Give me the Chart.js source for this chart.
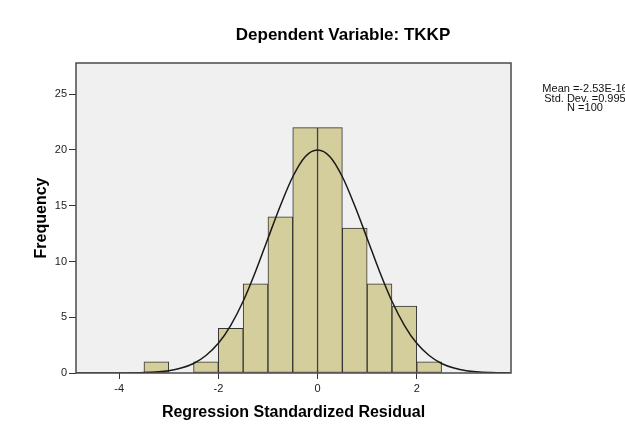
<!DOCTYPE html>
<html>
<head>
<meta charset="utf-8">
<script src="https://cdn.jsdelivr.net/npm/chart.js@4/dist/chart.umd.min.js"></script>
<style>
    body { margin: 0; background: #fff; }
    #wrap { width: 625px; height: 447px; position: relative; }
</style>
</head>
<body>
<div id="wrap"><canvas id="histChart"></canvas></div>
<script>
// histogram bins (0.5 wide), centre of each bin and its frequency
const binCenters = [-3.25, -2.25, -1.75, -1.25, -0.75, -0.25, 0.25, 0.75, 1.25, 1.75, 2.25];
const binCounts = [1, 1, 4, 8, 14, 22, 22, 13, 8, 6, 1];

// normal curve
const curveX = [-4.87, -4.5, -4, -3.5, -3, -2.75, -2.5, -2.25, -2, -1.75, -1.5, -1.25, -1, -0.75, -0.5, -0.25, 0, 0.25, 0.5, 0.75, 1, 1.25, 1.5, 1.75, 2, 2.25, 2.5, 2.75, 3, 3.5, 3.9];
const curveY = [0, 0.001, 0.006, 0.04, 0.21, 0.44, 0.85, 1.57, 2.66, 4.28, 6.43, 9.1, 12.07, 15.0, 17.6, 19.4, 20, 19.4, 17.6, 15.0, 12.07, 9.1, 6.43, 4.28, 2.66, 1.57, 0.85, 0.44, 0.21, 0.04, 0.01];

const xTicks = [-4, -2, 0, 2];
const yTicks = [0, 5, 10, 15, 20, 25];

const titleText = "Dependent Variable: TKKP";
const statLines = ["Mean =-2.53E-16", "Std. Dev. =0.995", "N =100"];

const fontFamily = "'Liberation Sans', Arial, sans-serif";

const frame = {
    id: "frame",
    beforeDraw(chart) {
        const { ctx, chartArea: a } = chart;
        ctx.save();
        ctx.fillStyle = "#f0f0f0";
        ctx.fillRect(a.left, a.top, a.right - a.left, a.bottom - a.top);
        ctx.restore();
    },
    afterDraw(chart) {
        const { ctx, chartArea: a } = chart;
        ctx.save();
        ctx.strokeStyle = "#4a4a4a";
        ctx.lineWidth = 1.5;
        ctx.strokeRect(a.left, a.top, a.right - a.left, a.bottom - a.top);

        ctx.fillStyle = "#000";
        ctx.font = "bold 17px " + fontFamily;
        ctx.textAlign = "center";
        ctx.textBaseline = "middle";
        ctx.fillText(titleText, 343, 35);

        // stats box text, cut off by the right edge like the original
        ctx.font = "11px " + fontFamily;
        ctx.fillStyle = "#111";
        statLines.forEach((s, i) => {
            ctx.fillText(s, 585, 89 + i * 9.5);
        });
        ctx.restore();
    },
};

const ctx = document.getElementById("histChart").getContext("2d");
new Chart(ctx, {
    data: {
        datasets: [
            {
                type: "line",
                data: curveX.map((x, i) => ({ x: x, y: curveY[i] })),
                borderColor: "#1a1a1a",
                borderWidth: 1.5,
                pointRadius: 0,
                cubicInterpolationMode: "monotone",
                fill: false,
                order: 0,
            },
            {
                type: "bar",
                data: binCenters.map((x, i) => ({ x: x, y: binCounts[i] })),
                backgroundColor: "rgb(211, 206, 155)",
                borderColor: "#333",
                borderWidth: 1,
                borderSkipped: false,
                barPercentage: 1,
                categoryPercentage: 1,
                order: 1,
            },
        ],
    },
    options: {
        responsive: true,
        maintainAspectRatio: false,
        animation: false,
        layout: { padding: { top: 63, right: 114, left: 0, bottom: 0 } },
        plugins: {
            legend: { display: false },
            tooltip: { enabled: false },
        },
        scales: {
            x: {
                type: "linear",
                offset: false,
                min: -4.87,
                max: 3.9,
                afterBuildTicks: (s) => { s.ticks = xTicks.map((v) => ({ value: v })); },
                afterFit: (s) => { s.height = 74; },
                border: { display: false },
                grid: { offset: false, drawOnChartArea: false, drawTicks: true, tickLength: 6, color: "#333" },
                ticks: { color: "#222", font: { family: fontFamily, size: 11 }, padding: 3, maxRotation: 0 },
                title: {
                    display: true,
                    text: "Regression Standardized Residual",
                    color: "#000",
                    font: { family: fontFamily, size: 16, weight: "bold" },
                    padding: { top: 0, bottom: 24.4 },
                },
            },
            y: {
                type: "linear",
                min: 0,
                max: 27.8,
                afterBuildTicks: (s) => { s.ticks = yTicks.map((v) => ({ value: v })); },
                afterFit: (s) => { s.width = 76; },
                border: { display: false },
                grid: { drawOnChartArea: false, drawTicks: true, tickLength: 7, color: "#333" },
                ticks: { color: "#222", font: { family: fontFamily, size: 11 }, padding: 2 },
                title: {
                    display: true,
                    text: "Frequency",
                    color: "#000",
                    font: { family: fontFamily, size: 16, weight: "bold" },
                    padding: { top: 32.4, bottom: 0 },
                },
            },
        },
    },
    plugins: [frame],
});
</script>
</body>
</html>
